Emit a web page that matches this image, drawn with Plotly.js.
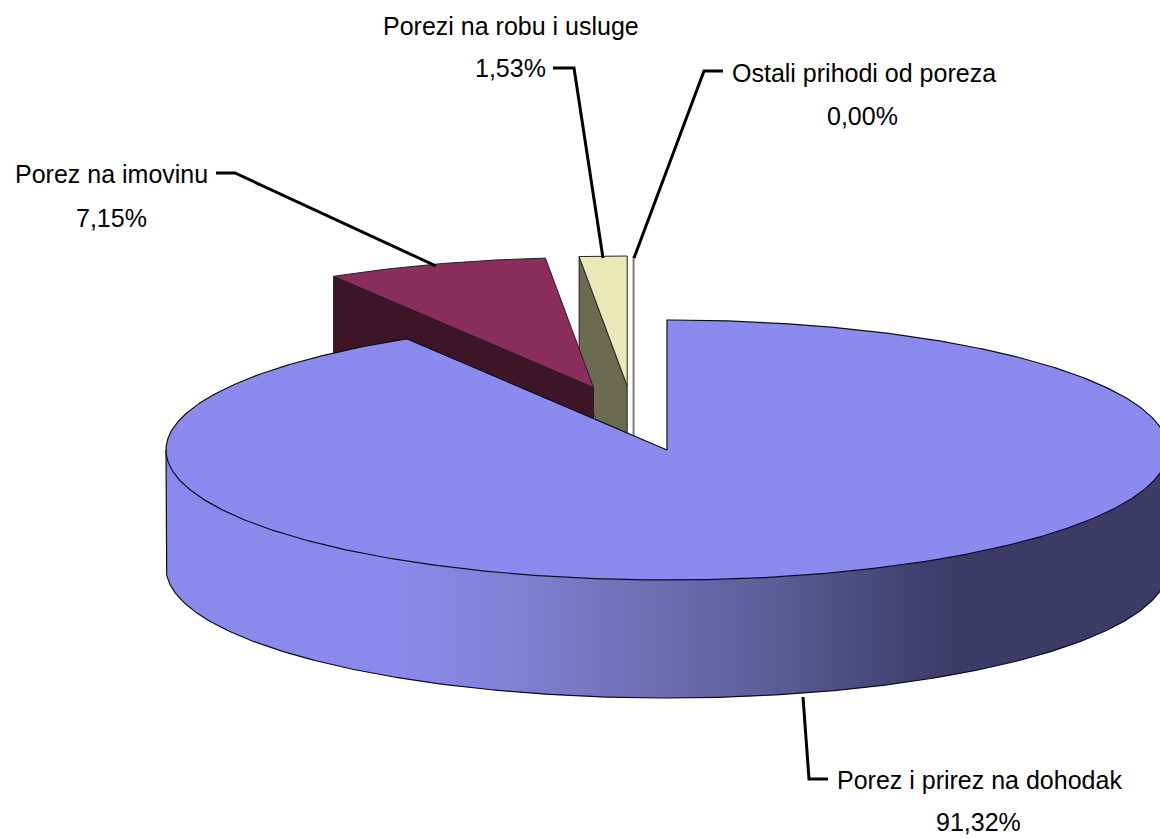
<!DOCTYPE html>
<html><head><meta charset="utf-8">
<script src="https://cdn.plot.ly/plotly-3.0.1.min.js"></script>
<style>html,body{margin:0;padding:0;background:#fff}#c{width:1160px;height:838px}</style>
</head><body><div id="c"></div>
<script>
// Data
const categories = ["Porez i prirez na dohodak","Porez na imovinu","Porezi na robu i usluge","Ostali prihodi od poreza"];
const shares = [91.32, 7.15, 1.53, 0.00];
const shareLabels = ["91,32%","7,15%","1,53%","0,00%"];

// Styling
const topColors = ["#8b8bef","#8b2d5d","#e9e9b8","#ffffff"];
const faceColors = ["#3c3b66","#3e1427","#6b6b50","#ffffff"];
const wallStops = [[160,[138,138,238]],[400,[138,138,236]],[520,[128,128,212]],[650,[110,110,178]],[790,[90,90,148]],[910,[66,65,112]],[960,[61,59,102]],[1170,[61,59,102]]];
const edge = "#0c0c22";

// Projection of the tilted pie
const RX = 501, RY = 130, DEPTH = 118;
const centres = [[667,450],[593.5,387.5],[627.2,386],[633.6,386]];
const pt = (c,deg,dy=0)=>{const a=deg*Math.PI/180;return [c[0]+RX*Math.sin(a), c[1]-RY*Math.cos(a)+dy];};
const arc = (c,a0,a1,dy=0)=>{const n=Math.max(2,Math.ceil(Math.abs(a1-a0)*2));const o=[];for(let i=0;i<=n;i++)o.push(pt(c,a0+(a1-a0)*i/n,dy));return o;};
const poly = (pts,fill,lineColor,lw)=>({type:"scatter",mode:"lines",x:pts.map(p=>p[0]),y:pts.map(p=>p[1]),fill:"toself",fillcolor:fill,
  line:{color:lineColor||fill,width:lineColor?(lw||1):0},hoverinfo:"skip",showlegend:false});
const path = (pts,color,w)=>({type:"scatter",mode:"lines",x:pts.map(p=>p[0]),y:pts.map(p=>p[1]),line:{color:color,width:w},hoverinfo:"skip",showlegend:false});

// Slice angles from the shares
let acc=0; const ang=shares.map(v=>{const s=acc/100*360; acc+=v; return [s,acc/100*360];});

const traces=[];
// Exploded slices, back to front: zero sliver, goods, property
{ const c=centres[3], o=pt(c,360);
  traces.push(path([o,[c[0],c[1]+DEPTH]],"#7a7a7a",2)); }
[2,1].forEach(i=>{
  const c=centres[i],[a0,a1]=ang[i];
  const p0=pt(c,a0);
  traces.push(poly([p0,c,[c[0],c[1]+DEPTH],[p0[0],p0[1]+DEPTH],p0],faceColors[i],"#222222",1));
  traces.push(poly([c,...arc(c,a0,a1),c],topColors[i],"#222222",1));
});
// Main slice: front wall strips
const mc=centres[0];
const wallColor=x=>{for(let i=1;i<wallStops.length;i++){if(x<=wallStops[i][0]){const [x0,c0]=wallStops[i-1],[x1,c1]=wallStops[i];const t=(x-x0)/(x1-x0);
  return "rgb("+c0.map((v,k)=>Math.round(v+(c1[k]-v)*t)).join(",")+")";}}return "rgb(61,59,102)";};
const yAt=x=>{const s=Math.max(-1,Math.min(1,(x-mc[0])/RX));return Math.sqrt(1-s*s)*RY;};
const step=4;
for(let x=mc[0]-RX;x<mc[0]+RX;x+=step){
  const x1=Math.min(x+step+1,mc[0]+RX);
  const xs=[];for(let k=0;k<=4;k++)xs.push(x+(x1-x)*k/4);
  const up=xs.map(v=>[v,mc[1]+yAt(v)]), lo=xs.slice().reverse().map(v=>[v,mc[1]+yAt(v)+DEPTH]);
  const pts=[...up,...lo,up[0]];
  traces.push(poly(pts,wallColor(x+step/2)));
}
// Main slice: wall outline and top
traces.push(path([pt(mc,270),pt(mc,270,DEPTH),...arc(mc,270,90,DEPTH),pt(mc,90)],edge,1.2));
traces.push(poly([mc,...arc(mc,ang[0][0],ang[0][1]),mc],topColors[0],edge,1.2));

// Leader lines
const leaders=[
  [[803,697],[809,779],[828,779]],
  [[216,173],[235,173],[436,266]],
  [[553,68],[574,68],[603,258]],
  [[634,258],[704,71],[723,71]]
];
leaders.forEach(l=>traces.push(path(l,"#000000",3)));

// Labels
const font={family:"Liberation Sans, Arial, sans-serif",size:25,color:"#000"};
const labelPos=[[[979,780],[978,822]],[[111,174],[111,218]],[[511,26],[510,68]],[[863.5,73],[862.5,116]]];
const annotations=[];
categories.forEach((c,i)=>{
  annotations.push({x:labelPos[i][0][0],y:labelPos[i][0][1],xref:"x",yref:"y",text:c,showarrow:false,font,xanchor:"center",yanchor:"middle"});
  annotations.push({x:labelPos[i][1][0],y:labelPos[i][1][1],xref:"x",yref:"y",text:shareLabels[i],showarrow:false,font,xanchor:"center",yanchor:"middle"});
});

Plotly.newPlot("c",traces,{
  width:1160,height:838,margin:{l:0,r:0,t:0,b:0},paper_bgcolor:"#fff",plot_bgcolor:"#fff",showlegend:false,
  xaxis:{range:[0,1160],visible:false,fixedrange:true},
  yaxis:{range:[838,0],visible:false,fixedrange:true},
  annotations
},{displayModeBar:false,staticPlot:true});
</script></body></html>
